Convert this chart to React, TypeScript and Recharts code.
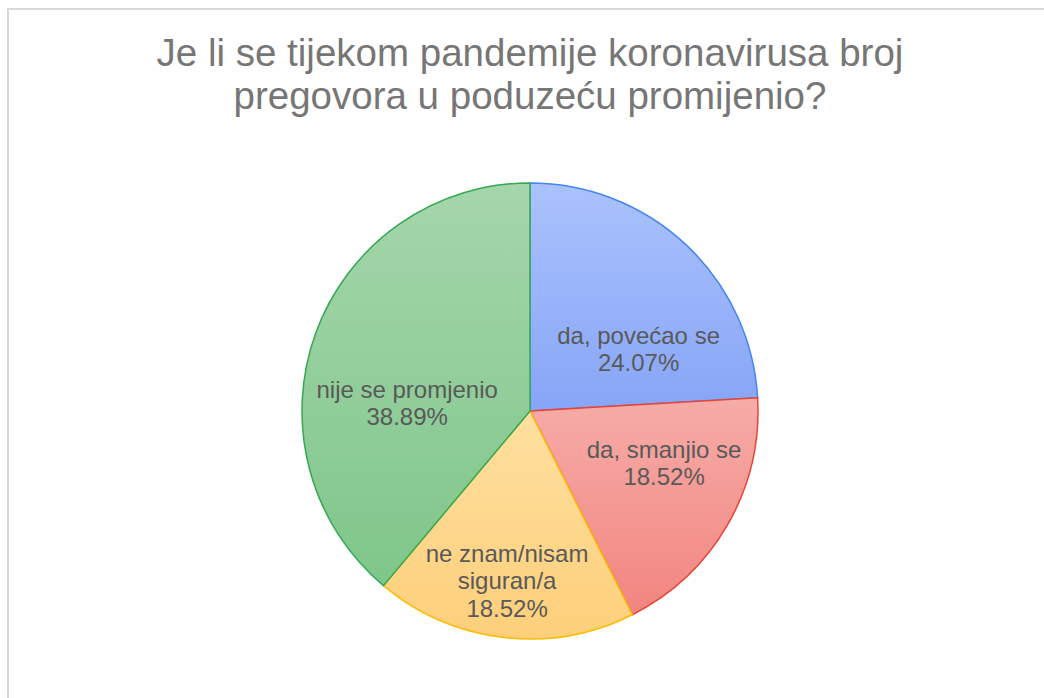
import { PieChart, Pie, Cell } from 'recharts';

const categories = ['da, povećao se', 'da, smanjio se', 'ne znam/nisam siguran/a', 'nije se promjenio'];
const shares = [24.07, 18.52, 18.52, 38.89];
const labelLines = [
  ['da, povećao se'],
  ['da, smanjio se'],
  ['ne znam/nisam', 'siguran/a'],
  ['nije se promjenio'],
];

const data = categories.map((name, i) => ({ name, value: shares[i] }));

const STROKES = ['#4285f4', '#ea4335', '#fbbc04', '#34a853'];
const GRADIENTS = [
  ['#aac2fc', '#87a5f7'],
  ['#f6aca8', '#f2857f'],
  ['#fee0a0', '#fdcf7a'],
  ['#a5d6ab', '#7fc68a'],
];

// where Excel's "best fit" put each label: angle clockwise from top, radius fraction
const LABEL_SPOT = [
  { angle: 60, r: 0.55 },
  { angle: 111, r: 0.63 },
  { angle: 187.7, r: 0.75 },
  { angle: 274, r: 0.54 },
];

const renderLabel = (props: any) => {
  const { cx, cy, outerRadius, index, value } = props;
  const spot = LABEL_SPOT[index];
  const rad = (spot.angle * Math.PI) / 180;
  const x = cx + Math.sin(rad) * outerRadius * spot.r;
  const y = cy - Math.cos(rad) * outerRadius * spot.r;
  const lines = [...labelLines[index], `${value.toFixed(2)}%`];
  const lh = 27.5;
  const y0 = y - ((lines.length - 1) * lh) / 2;
  return (
    <text
      x={x}
      y={y0}
      textAnchor="middle"
      dominantBaseline="central"
      fill="#595959"
      fontSize={24}
      fontFamily="'Liberation Sans', Arial, sans-serif"
    >
      {lines.map((l, i) => (
        <tspan key={i} x={x} y={y0 + i * lh}>
          {l}
        </tspan>
      ))}
    </text>
  );
};

export default function App() {
  return (
    <div
      style={{
        position: 'fixed',
        left: 0,
        top: 0,
        width: 1044,
        height: 698,
        background: '#fff',
        fontFamily: "'Liberation Sans', Arial, sans-serif",
        overflow: 'hidden',
      }}
    >
      <div
        style={{
          position: 'absolute',
          left: 7,
          top: 8,
          width: 1100,
          height: 760,
          borderLeft: '2px solid #d9d9d9',
          borderTop: '2px solid #d9d9d9',
        }}
      />
      <div
        style={{
          position: 'absolute',
          left: 80,
          width: 900,
          top: 31,
          textAlign: 'center',
          fontSize: 38.5,
          lineHeight: '43px',
          color: '#767676',
        }}
      >
        Je li se tijekom pandemije koronavirusa broj
        <br />
        pregovora u poduzeću promijenio?
      </div>
      <div style={{ position: 'absolute', left: 0, top: 0 }}>
        <PieChart width={1044} height={698} margin={{ top: 0, right: 0, bottom: 0, left: 0 }}>
          <defs>
            {GRADIENTS.map((g, i) => (
              <linearGradient key={i} id={`grad${i}`} x1="0" y1="0" x2="0" y2="1">
                <stop offset="0%" stopColor={g[0]} />
                <stop offset="100%" stopColor={g[1]} />
              </linearGradient>
            ))}
          </defs>
          <Pie
            data={data}
            dataKey="value"
            nameKey="name"
            cx={530}
            cy={411}
            outerRadius={228}
            startAngle={90}
            endAngle={-270}
            labelLine={false}
            label={renderLabel}
            isAnimationActive={false}
          >
            {data.map((_, i) => (
              <Cell key={i} fill={`url(#grad${i})`} stroke={STROKES[i]} strokeWidth={1.5} />
            ))}
          </Pie>
        </PieChart>
      </div>
    </div>
  );
}
